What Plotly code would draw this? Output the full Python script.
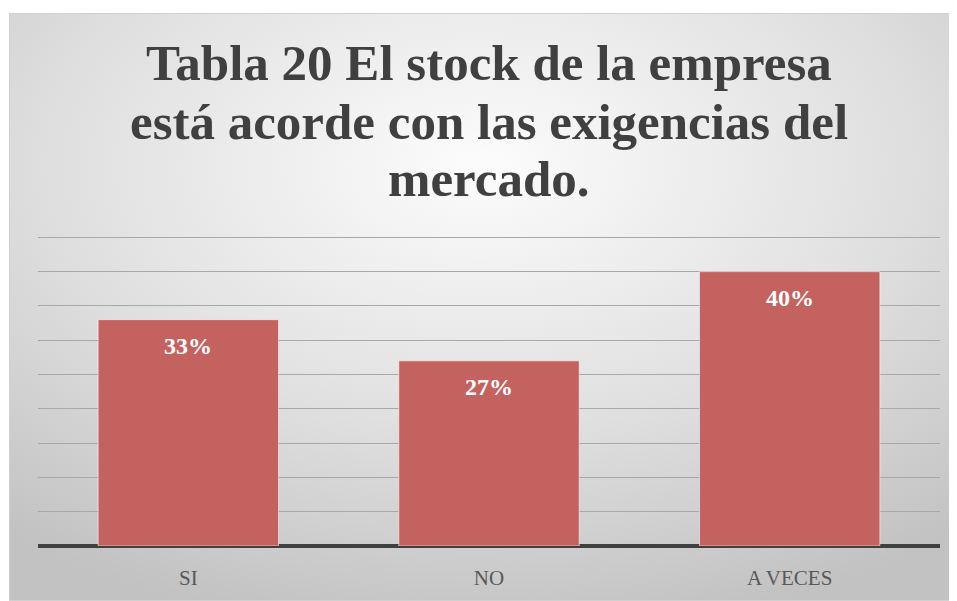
import base64
import plotly.graph_objects as go

categories = ["SI", "NO", "A VECES"]
values = [33, 27, 40]
labels = ["33%", "27%", "40%"]
title_lines = ["Tabla 20 El stock de la empresa",
               "está acorde con las exigencias del",
               "mercado."]

# the page body adds an 8px margin; positions below are measured in the
# reference image and shifted by that offset
OFF = 8
W, H = 957 - OFF, 601 - OFF
L, R, T, B = 38 - OFF, 940 - OFF, 236 - OFF, 546 - OFF
pw, ph = R - L, B - T

def px_x(px):
    return (px - OFF - L) / pw

def px_y(py):
    return (B - (py - OFF)) / ph

svg = """<svg xmlns='http://www.w3.org/2000/svg' width='942' height='588' viewBox='0 0 942 588' preserveAspectRatio='none'>
<defs><radialGradient id='g' cx='50%' cy='26%' r='80%' fx='50%' fy='26%'>
<stop offset='0' stop-color='#fcfcfc'/><stop offset='0.55' stop-color='#e0e0e0'/><stop offset='1' stop-color='#c2c2c2'/>
</radialGradient></defs>
<rect x='0' y='0' width='942' height='588' fill='url(#g)' stroke='#d0d0d0' stroke-width='2'/>
</svg>"""
bg_src = "data:image/svg+xml;base64," + base64.b64encode(svg.encode()).decode()

fig = go.Figure()
fig.add_trace(go.Bar(
    x=categories, y=values,
    marker=dict(color="#C4625F", line=dict(color="rgba(255,255,255,0.55)", width=1)),
    width=0.6,
    hoverinfo="skip",
))

for c, v, t in zip(categories, values, labels):
    fig.add_annotation(x=c, y=v, text="<b>" + t + "</b>", showarrow=False,
                       yshift=-26,
                       font=dict(family="Liberation Serif", size=24, color="white"))

title_y = [63, 122, 179]
for line, ty in zip(title_lines, title_y):
    fig.add_annotation(xref="paper", yref="paper", x=0.5, y=px_y(ty),
                       xanchor="center", yanchor="middle", showarrow=False,
                       text="<b>" + line + "</b>",
                       font=dict(family="Liberation Serif", size=51, color="#404040"))

fig.add_layout_image(dict(
    source=bg_src, xref="paper", yref="paper",
    x=px_x(9), y=px_y(13), sizex=px_x(951) - px_x(9), sizey=px_y(13) - px_y(601),
    xanchor="left", yanchor="top", sizing="stretch", layer="below"))

fig.update_layout(
    width=W, height=H,
    margin=dict(l=L, r=W - R, t=T, b=H - B),
    paper_bgcolor="white", plot_bgcolor="rgba(0,0,0,0)",
    showlegend=False,
    xaxis=dict(showgrid=False, showline=False, ticks="", zeroline=False,
               tickfont=dict(family="Liberation Serif", size=21, color="#595959"),
               ticklabelstandoff=17, fixedrange=True),
    yaxis=dict(range=[0, 45.2], dtick=5, showticklabels=False, ticks="",
               showgrid=True, gridcolor="#a8a8a8", gridwidth=1,
               zeroline=True, zerolinecolor="#404040", zerolinewidth=4,
               showline=False, fixedrange=True),
)

fig.write_html("out.html")
